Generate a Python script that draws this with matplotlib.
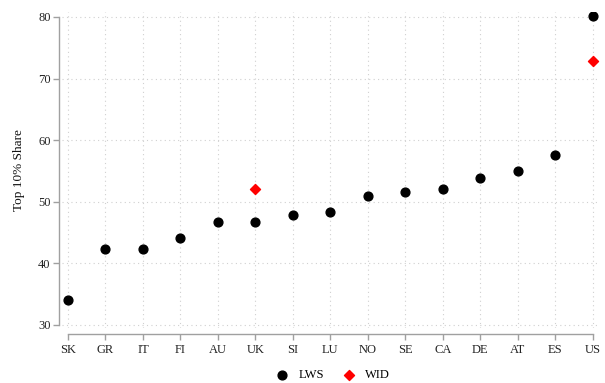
import matplotlib.pyplot as plt

countries = ['SK', 'GR', 'IT', 'FI', 'AU', 'UK', 'SI', 'LU', 'NO', 'SE', 'CA', 'DE', 'AT', 'ES', 'US']
lws = [34.1, 42.3, 42.3, 44.1, 46.7, 46.7, 47.9, 48.3, 50.9, 51.6, 52.1, 53.9, 55.0, 57.6, 80.2]
wid_countries = ['UK', 'US']
wid = [52.0, 72.9]

plt.rcParams['font.family'] = ['Liberation Serif', 'DejaVu Serif']

fig = plt.figure(figsize=(6.05, 3.83), dpi=100)
ax = fig.add_axes([62 / 605, 55 / 383, 538 / 605, 316 / 383])

x = list(range(len(countries)))
wid_x = [countries.index(c) for c in wid_countries]

ax.scatter(x, lws, s=40, color='black', marker='o', label='LWS', zorder=3)
ax.scatter(wid_x, wid, s=26, color='red', marker='D', label='WID', zorder=3)

ax.set_xlim(-0.16, 14.19)
ax.set_ylim(29.5, 80.8)
ax.set_xticks(x)
ax.set_xticklabels(countries)
ax.set_yticks([30, 40, 50, 60, 70, 80])
ax.grid(True, linestyle=(0, (1, 3)), color='#d0d0d0', linewidth=0.8)
ax.set_axisbelow(True)

for s in ['top', 'right']:
    ax.spines[s].set_visible(False)
ax.spines['left'].set_position(('outward', 2.2))
ax.spines['bottom'].set_position(('outward', 4.3))
ax.spines['left'].set_bounds(30, 80)
ax.spines['bottom'].set_bounds(0, 14)
for s in ['left', 'bottom']:
    ax.spines[s].set_color('#a0a0a0')
    ax.spines[s].set_linewidth(1.0)
ax.tick_params(colors='#a0a0a0', labelcolor='#222222', labelsize=9, length=4, width=1.0)
ax.tick_params(axis='x', pad=3)
ax.tick_params(axis='y', pad=2)

ax.set_ylabel('Top 10% Share', fontsize=9.5, color='#111111', labelpad=9)

fig.legend(loc='lower center', bbox_to_anchor=(0.545, -0.025), ncol=2, frameon=False,
           fontsize=9, handletextpad=0.3, columnspacing=1.0, markerscale=1.0)

fig.savefig('out.png', dpi=100)
